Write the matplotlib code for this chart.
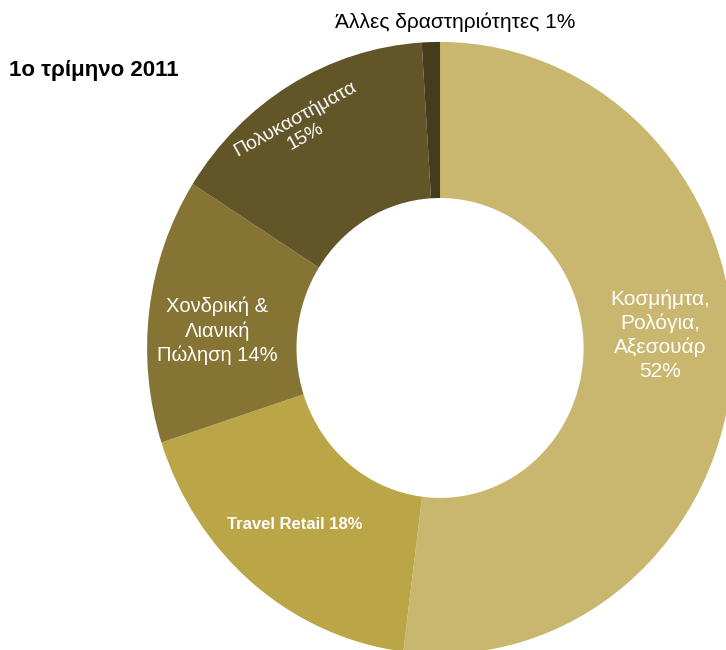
import matplotlib.pyplot as plt

plt.rcParams['font.family'] = ['Liberation Sans', 'DejaVu Sans']

# Revenue split by activity, Q1 2011
segments = ['Κοσμήμτα,\nΡολόγια,\nΑξεσουάρ', 'Travel Retail', 'Χονδρική &\nΛιανική\nΠώληση',
            'Πολυκαστήματα', 'Άλλες δραστηριότητες']
shares = [52, 18, 14, 15, 1]
colors = ['#C9B76F', '#BAA547', '#857433', '#625528', '#463B1C']

fig = plt.figure(figsize=(7.26, 6.5), dpi=100)
ax = fig.add_axes([0, 0, 1, 1])

wedges, _ = ax.pie(shares, colors=colors, startangle=90, counterclock=False,
                   radius=1.0, wedgeprops=dict(width=0.51, linewidth=0))

# slightly squashed horizontally, centre placed at about (440, 348) px
ax.set_aspect('auto')
ax.set_xlim(-1.502, 0.976)
ax.set_ylim(-0.987, 1.137)
ax.axis('off')

ax.text(0.751, 0.042, segments[0] + '\n52%', color='white', fontsize=15,
        ha='center', va='center', linespacing=1.3)
ax.text(-0.495, -0.578, 'Travel Retail 18%', color='white', fontsize=12,
        fontweight='bold', ha='center', va='center')
ax.text(-0.761, 0.056, 'Χονδρική &\nΛιανική\nΠώληση 14%', color='white', fontsize=14.5,
        ha='center', va='center', linespacing=1.3)
ax.text(-0.478, 0.72, 'Πολυκαστήματα\n15%', color='white', fontsize=14,
        ha='center', va='center', rotation=29, rotation_mode='anchor', linespacing=1.2)
ax.text(0.051, 1.065, 'Άλλες δραστηριότητες 1%', color='black', fontsize=15,
        ha='center', va='center')

fig.text(0.129, 0.892, '1ο τρίμηνο 2011', fontsize=16, fontweight='bold',
         ha='center', va='center')

fig.savefig('out.png', dpi=100, facecolor='white')
